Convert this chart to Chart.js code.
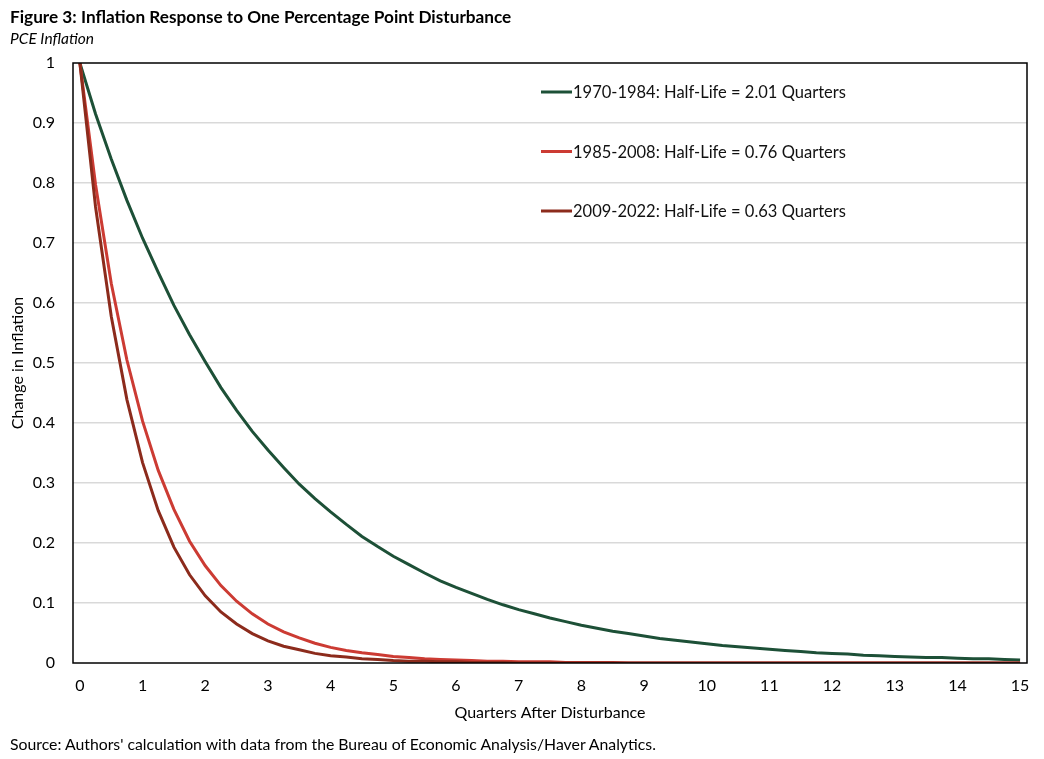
<!DOCTYPE html>
<html>
<head>
<meta charset="utf-8">
<script src="https://cdn.jsdelivr.net/npm/chart.js@4.4.1/dist/chart.umd.min.js"></script>
<style>
  body { margin: 0; background: #fff; font-family: Lato, "Open Sans", sans-serif; color: #000; }
  #wrap { position: relative; width: 1044px; height: 759px; }
  #title { position: absolute; left: 10px; top: 6px; font-weight: bold; font-size: 17.2px; }
  #sub { position: absolute; left: 10px; top: 29px; font-style: italic; font-size: 15.5px; }
  #source { position: absolute; left: 10px; top: 734px; font-size: 15.8px; }
  #box { position: absolute; left: 0; top: 0; width: 1044px; height: 759px; }
</style>
</head>
<body>
<div id="wrap">
  <div id="box"><canvas id="chart" width="1044" height="759"></canvas></div>
  <div id="title">Figure 3: Inflation Response to One Percentage Point Disturbance</div>
  <div id="sub">PCE Inflation</div>
  <div id="source">Source: Authors' calculation with data from the Bureau of Economic Analysis/Haver Analytics.</div>
</div>
<script>
// quarters after disturbance (quarter-step points)
const quarters = [
  0, 0.25, 0.5, 0.75, 1, 1.25, 1.5, 1.75, 2, 2.25, 2.5, 2.75, 3, 3.25, 3.5, 3.75,
  4, 4.25, 4.5, 4.75, 5, 5.25, 5.5, 5.75, 6, 6.25, 6.5, 6.75, 7, 7.25, 7.5, 7.75,
  8, 8.25, 8.5, 8.75, 9, 9.25, 9.5, 9.75, 10, 10.25, 10.5, 10.75, 11, 11.25, 11.5, 11.75,
  12, 12.25, 12.5, 12.75, 13, 13.25, 13.5, 13.75, 14, 14.25, 14.5, 14.75, 15
];
const xTickLabels = ["0","1","2","3","4","5","6","7","8","9","10","11","12","13","14","15"];

const labels = [
  "1970-1984: Half-Life = 2.01 Quarters",
  "1985-2008: Half-Life = 0.76 Quarters",
  "2009-2022: Half-Life = 0.63 Quarters"
];

const period1970 = [
  1.000, 0.915, 0.840, 0.771, 0.708, 0.651, 0.596, 0.547, 0.502, 0.459, 0.421, 0.386, 0.355, 0.326, 0.298, 0.274,
  0.252, 0.231, 0.211, 0.194, 0.178, 0.164, 0.150, 0.137, 0.126, 0.116, 0.106, 0.097, 0.089, 0.082, 0.075, 0.069,
  0.063, 0.058, 0.053, 0.049, 0.045, 0.041, 0.038, 0.035, 0.032, 0.029, 0.027, 0.025, 0.023, 0.021, 0.019, 0.017,
  0.016, 0.015, 0.013, 0.012, 0.011, 0.010, 0.009, 0.009, 0.008, 0.007, 0.007, 0.006, 0.005
];
const period1985 = [
  1.000, 0.797, 0.633, 0.505, 0.403, 0.321, 0.256, 0.203, 0.162, 0.129, 0.103, 0.082, 0.065, 0.052, 0.042, 0.033,
  0.026, 0.021, 0.017, 0.014, 0.011, 0.009, 0.007, 0.006, 0.005, 0.004, 0.003, 0.003, 0.002, 0.002, 0.002, 0.001,
  0.001, 0.001, 0.001, 0, 0, 0, 0, 0, 0, 0, 0, 0, 0, 0, 0, 0,
  0, 0, 0, 0, 0, 0, 0, 0, 0, 0, 0, 0, 0
];
const period2009 = [
  1.000, 0.760, 0.578, 0.439, 0.334, 0.254, 0.193, 0.147, 0.112, 0.085, 0.065, 0.049, 0.037, 0.028, 0.022, 0.016,
  0.012, 0.010, 0.007, 0.006, 0.004, 0.003, 0.003, 0.002, 0.002, 0.001, 0.001, 0.001, 0, 0, 0, 0,
  0, 0, 0, 0, 0, 0, 0, 0, 0, 0, 0, 0, 0, 0, 0, 0,
  0, 0, 0, 0, 0, 0, 0, 0, 0, 0, 0, 0, 0
];

const colors = ["#1d5037", "#cc3b33", "#8c2b1c"];
const seriesList = [period1970, period1985, period2009];

function toPoints(vals) {
  return vals.map((v, i) => ({ x: quarters[i], y: v }));
}

const FONT = "Lato, 'Open Sans', sans-serif";

const frame = {
  id: 'frame',
  afterDraw(chart) {
    const { ctx, chartArea: a } = chart;
    ctx.save();
    ctx.strokeStyle = '#000';
    ctx.lineWidth = 1.5;
    ctx.strokeRect(a.left, a.top, a.right - a.left, a.bottom - a.top);
    ctx.restore();
  }
};

const legendInside = {
  id: 'legendInside',
  afterDraw(chart) {
    const { ctx, chartArea: a } = chart;
    ctx.save();
    ctx.font = "16.5px " + FONT;
    ctx.textBaseline = 'middle';
    labels.forEach((txt, i) => {
      const y = a.top + 29 + i * 59.5;
      const x = a.left + 468;
      ctx.strokeStyle = colors[i];
      ctx.lineWidth = 3;
      ctx.beginPath();
      ctx.moveTo(x, y);
      ctx.lineTo(x + 31, y);
      ctx.stroke();
      ctx.fillStyle = '#111';
      ctx.fillText(txt, x + 32, y + 1);
    });
    ctx.restore();
  }
};

new Chart(document.getElementById('chart'), {
  type: 'line',
  data: {
    datasets: seriesList.map((s, i) => ({
      label: labels[i],
      data: toPoints(s),
      borderColor: colors[i],
      backgroundColor: colors[i],
      borderWidth: 3,
      pointRadius: 0,
      tension: 0,
      order: 2 - i
    }))
  },
  options: {
    responsive: false,
    animation: false,
    devicePixelRatio: 1,
    layout: { padding: { top: 63, right: 17, bottom: 37, left: 0 } },
    plugins: { legend: { display: false }, tooltip: { enabled: false } },
    scales: {
      x: {
        type: 'linear',
        min: -0.11,
        max: 15.11,
        afterBuildTicks(scale) {
          scale.ticks = xTickLabels.map(t => ({ value: Number(t) }));
        },
        afterFit(scale) { scale.height = 59; },
        grid: { display: false, drawTicks: false },
        border: { display: false },
        ticks: {
          color: '#000',
          padding: 13,
          font: { family: FONT, size: 16 },
          maxRotation: 0,
          autoSkip: false,
          callback: (v) => xTickLabels[v]
        },
        title: {
          display: true,
          text: 'Quarters After Disturbance',
          color: '#000',
          font: { family: FONT, size: 16 },
          padding: { top: 4, bottom: 0 }
        }
      },
      y: {
        min: 0,
        max: 1,
        afterFit(scale) { scale.width = 73; },
        grid: {
          color: (c) => (c.tick.value > 0 && c.tick.value < 1) ? '#d9d9d9' : 'rgba(0,0,0,0)',
          lineWidth: 1.5,
          drawTicks: false
        },
        border: { display: false },
        ticks: {
          stepSize: 0.1,
          color: '#000',
          padding: 18,
          font: { family: FONT, size: 16 },
          callback: (v) => String(Math.round(v * 10) / 10)
        },
        title: {
          display: true,
          text: 'Change in Inflation',
          color: '#000',
          font: { family: FONT, size: 16 },
          padding: { top: 8, bottom: 0 }
        }
      }
    }
  },
  plugins: [frame, legendInside]
});
</script>
</body>
</html>
